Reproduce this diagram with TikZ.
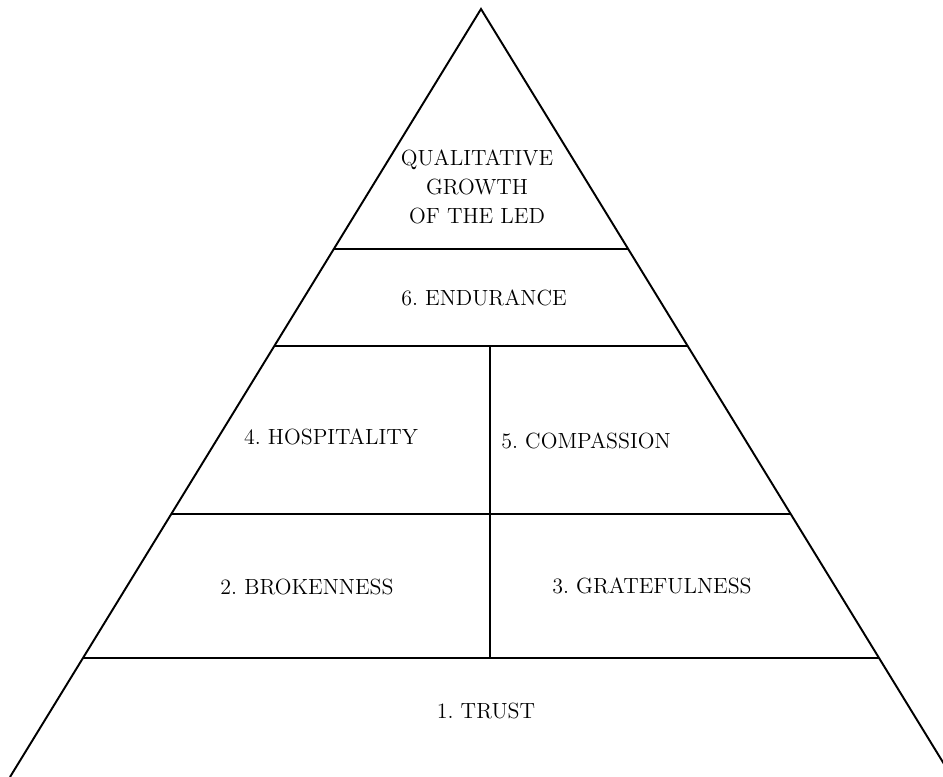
\documentclass[tikz,border=0pt]{standalone}
\usepackage{xcolor}
\definecolor{pyramid-black}{HTML}{000000}
\usepackage{tikz}
\tikzset{
    tier/.style={font=\fontsize{12.5}{16.4}\selectfont\frenchspacing, text=pyramid-black, align=center, inner sep=0pt}
}

\begin{document}
\begin{tikzpicture}[x=0.02cm, y=-0.02cm, line width=1.1pt]

    % Frame
    \useasboundingbox (0, 0) rectangle (943, 777);
    \clip (0, 0) rectangle (943, 777);

    % Outline
    \draw[pyramid-black] (10, 777) -- (481, 9) -- (952, 777);

    % Layers
    \draw[pyramid-black] (333.8, 249) -- (628.2, 249);
    \draw[pyramid-black] (274.3, 346) -- (687.7, 346);
    \draw[pyramid-black] (171.3, 514) -- (790.7, 514);
    \draw[pyramid-black] (83.0, 658) -- (879.0, 658);
    \draw[pyramid-black] (490, 346) -- (490, 658);

    % Labels
    \node[tier] (growth) at (477, 187) {QUALITATIVE\\GROWTH\\OF THE LED};
    \node[tier] (endurance) at (484, 298) {6. ENDURANCE};
    \node[tier] (hospitality) at (331, 437) {4. HOSPITALITY};
    \node[tier] (compassion) at (586, 441) {5. COMPASSION};
    \node[tier] (brokenness) at (307, 587) {2. BROKENNESS};
    \node[tier] (gratefulness) at (652, 586) {3. GRATEFULNESS};
    \node[tier] (trust) at (486, 711) {1. TRUST};

\end{tikzpicture}
\end{document}
